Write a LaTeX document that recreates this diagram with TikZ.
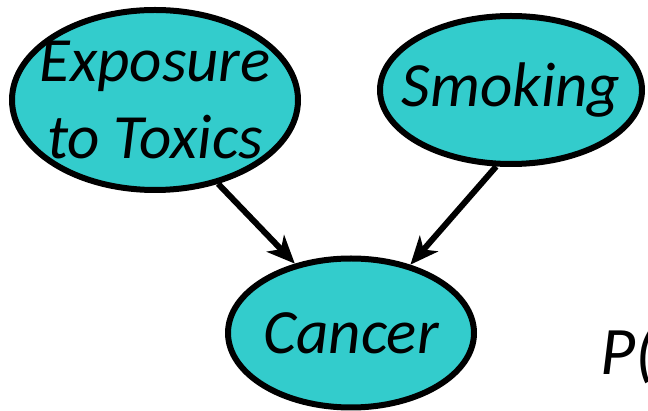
\documentclass[tikz,border=0pt]{standalone}
\usepackage{fontspec}
\setmainfont{Carlito}
\usetikzlibrary{shapes.geometric,arrows.meta}
\definecolor{nodecyan}{RGB}{51,204,204}
\begin{document}
\begin{tikzpicture}[x=1pt,y=-1pt,line width=6pt,line join=round,
    ell/.style={ellipse,draw=black,fill=nodecyan,inner sep=0pt},
    txt/.style={font=\fontsize{63}{77}\selectfont\itshape,align=center,inner sep=0pt},
    arr/.style={-{Stealth[length=28pt,width=24pt,inset=8pt]}}]
                \useasboundingbox (0,0) rectangle (648,411);
                \node[ell,minimum width=286pt,minimum height=180pt] (expo) at (155,100) {};
                \node[ell,minimum width=262pt,minimum height=148pt] (smok) at (511,90) {};
                \node[ell,minimum width=246pt,minimum height=149pt] (canc) at (351,333) {};
                \node[txt] (expotxt) at (expo) {Exposure\\to Toxics};
                \node[txt] (smoktxt) at (smok) {Smoking};
                \node[txt] (canctxt) at (canc) {Cancer};
                \node[txt,anchor=base west,font=\fontsize{68}{80}\selectfont\itshape] (prob) at (597,375) {P(};
                \draw[arr] (expo.-53)--(canc.129);
                \draw[arr] (smok.-101)--(canc.49);
            \end{tikzpicture}
\end{document}
